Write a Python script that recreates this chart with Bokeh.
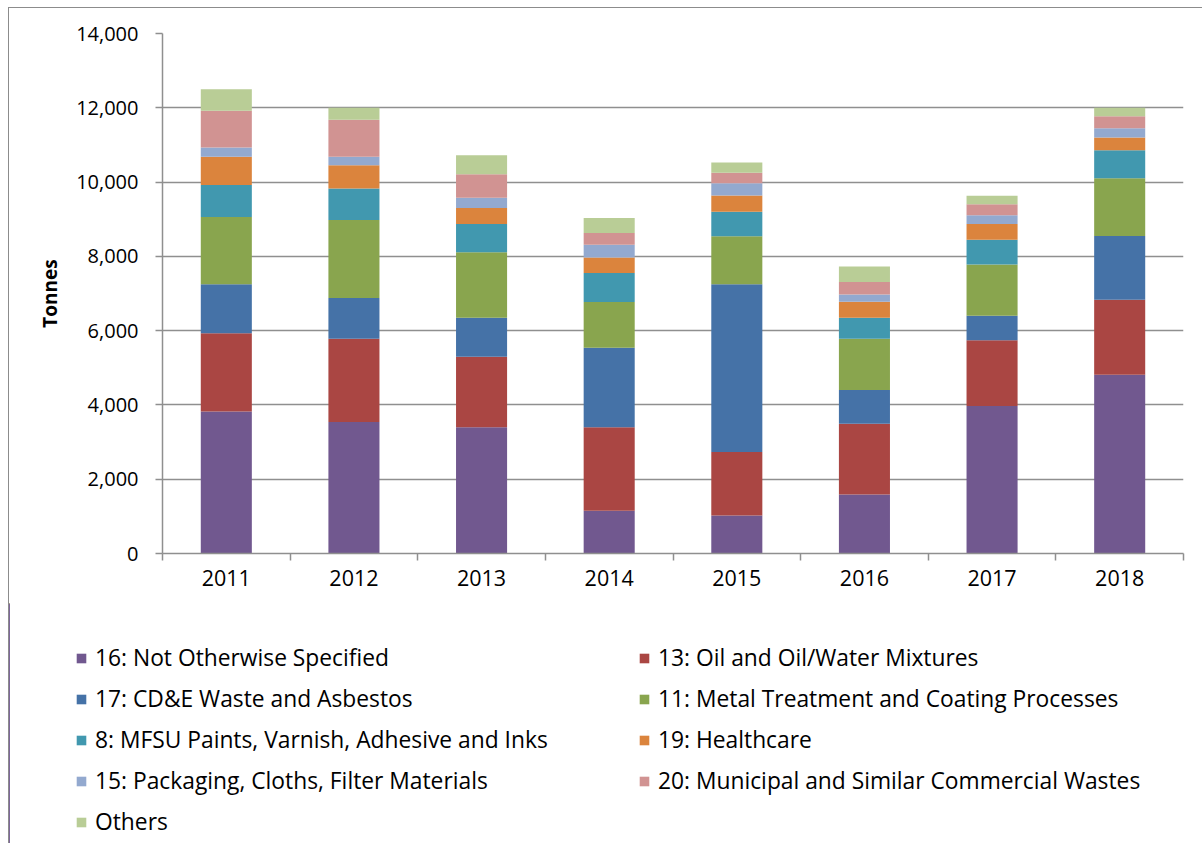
from bokeh.plotting import figure
from bokeh.models import (ColumnDataSource, Range1d, FixedTicker, NumeralTickFormatter,
                          Legend, LegendItem)
from bokeh.embed import file_html
from bokeh.resources import INLINE

years = ["2011", "2012", "2013", "2014", "2015", "2016", "2017", "2018"]
nos16 = [3820, 3540, 3400, 1150, 1020, 1590, 3970, 4810]
oil13 = [2110, 2240, 1900, 2250, 1710, 1900, 1770, 2020]
cde17 = [1320, 1100, 1050, 2140, 4520, 910, 660, 1720]
metal11 = [1810, 2100, 1760, 1230, 1290, 1380, 1380, 1550]
mfsu8 = [860, 850, 760, 780, 660, 570, 670, 760]
health19 = [760, 620, 430, 420, 440, 430, 420, 340]
pack15 = [250, 230, 280, 340, 330, 190, 240, 250]
muni20 = [990, 1000, 630, 320, 280, 340, 290, 320]
others = [580, 320, 510, 400, 280, 420, 230, 230]

labels = ["16: Not Otherwise Specified", "13: Oil and Oil/Water Mixtures",
          "17: CD&E Waste and Asbestos", "11: Metal Treatment and Coating Processes",
          "8: MFSU Paints, Varnish, Adhesive and Inks", "19: Healthcare",
          "15: Packaging, Cloths, Filter Materials", "20: Municipal and Similar Commercial Wastes",
          "Others"]
y_ticks = [0, 2000, 4000, 6000, 8000, 10000, 12000, 14000]

keys = ["nos16", "oil13", "cde17", "metal11", "mfsu8", "health19", "pack15", "muni20", "others"]
series = [nos16, oil13, cde17, metal11, mfsu8, health19, pack15, muni20, others]
colors = ["#71588F", "#AA4643", "#4572A7", "#89A54E", "#4198AF", "#DB843D",
          "#93A9CF", "#D19392", "#B9CD96"]

FONT = "Open Sans"
GRID = "#8f8f8f"
BORDER = "1px solid #8c8c8c"

xs = [i + 0.5 for i in range(len(years))]
data = {"x": xs}
for k, v in zip(keys, series):
    data[k] = v
source = ColumnDataSource(data)

p = figure(width=1194, height=600,
           x_range=Range1d(0, len(years)), y_range=Range1d(y_ticks[0], y_ticks[-1]),
           output_backend="svg", toolbar_location=None,
           min_border_left=153, min_border_right=20, min_border_top=25, min_border_bottom=55,
           margin=(7, 0, 0, 8), styles={"border-left": BORDER, "border-top": BORDER})
p.outline_line_color = None
p.background_fill_color = "white"
p.border_fill_color = "white"

renderers = p.vbar_stack(keys, x="x", width=0.4, source=source,
                         fill_color=colors, line_color=None)

# x axis
p.xaxis.ticker = FixedTicker(ticks=xs, minor_ticks=list(range(len(years) + 1)))
p.xaxis.major_label_overrides = {x: y for x, y in zip(xs, years)}
p.xaxis.major_tick_line_color = None
p.xaxis.minor_tick_line_color = GRID
p.xaxis.minor_tick_line_width = 1.5
p.xaxis.minor_tick_out = 7
p.xaxis.minor_tick_in = 0
p.xaxis.axis_line_color = GRID
p.xaxis.axis_line_width = 1.5
p.xaxis.major_label_text_font = FONT
p.xaxis.major_label_text_font_size = "21.5px"
p.xaxis.major_label_text_color = "black"
p.xaxis.major_label_standoff = 9
p.xgrid.visible = False

# y axis
p.yaxis.ticker = FixedTicker(ticks=y_ticks)
p.yaxis.formatter = NumeralTickFormatter(format="0,0")
p.yaxis.major_tick_out = 7
p.yaxis.major_tick_in = 0
p.yaxis.major_tick_line_color = GRID
p.yaxis.major_tick_line_width = 1.5
p.yaxis.minor_tick_line_color = None
p.yaxis.axis_line_color = GRID
p.yaxis.axis_line_width = 1.5
p.yaxis.major_label_text_font = FONT
p.yaxis.major_label_text_font_size = "20px"
p.yaxis.major_label_text_color = "black"
p.yaxis.major_label_standoff = 17
p.yaxis.axis_label = "Tonnes"
p.yaxis.axis_label_text_font = FONT
p.yaxis.axis_label_text_font_style = "bold"
p.yaxis.axis_label_text_font_size = "19px"
p.yaxis.axis_label_text_color = "black"
p.yaxis.axis_label_standoff = 10
p.ygrid.grid_line_color = GRID
p.ygrid.grid_line_width = 1.5

# legend panel: a second, axis-less figure whose frame spans its whole width;
# the same stacked bars are drawn there outside its visible range, so only the legend shows
p2 = figure(width=1194, height=240, x_range=Range1d(100, 101), y_range=Range1d(0, 1),
            output_backend="svg", toolbar_location=None, min_border=0,
            x_axis_location=None, y_axis_location=None,
            margin=(-4, 0, 0, 8), styles={"border-left": BORDER})
p2.grid.visible = False
p2.outline_line_color = None
proxies = p2.vbar_stack(keys, x="x", width=0.4, source=source,
                        fill_color=colors, line_color=None)

items = [LegendItem(label=l, renderers=[r]) for l, r in zip(labels, proxies)]
legend = Legend(items=items, location=(66, 6), orientation="horizontal", ncols=2,
                glyph_width=12, glyph_height=12, label_standoff=8,
                label_width=533, label_height=20, spacing=10, padding=0, margin=0,
                border_line_color=None, background_fill_alpha=0,
                label_text_font=FONT, label_text_font_size="22.8px", label_text_color="black")
p2.add_layout(legend)

open("out.html", "w").write(file_html([p, p2], INLINE))
